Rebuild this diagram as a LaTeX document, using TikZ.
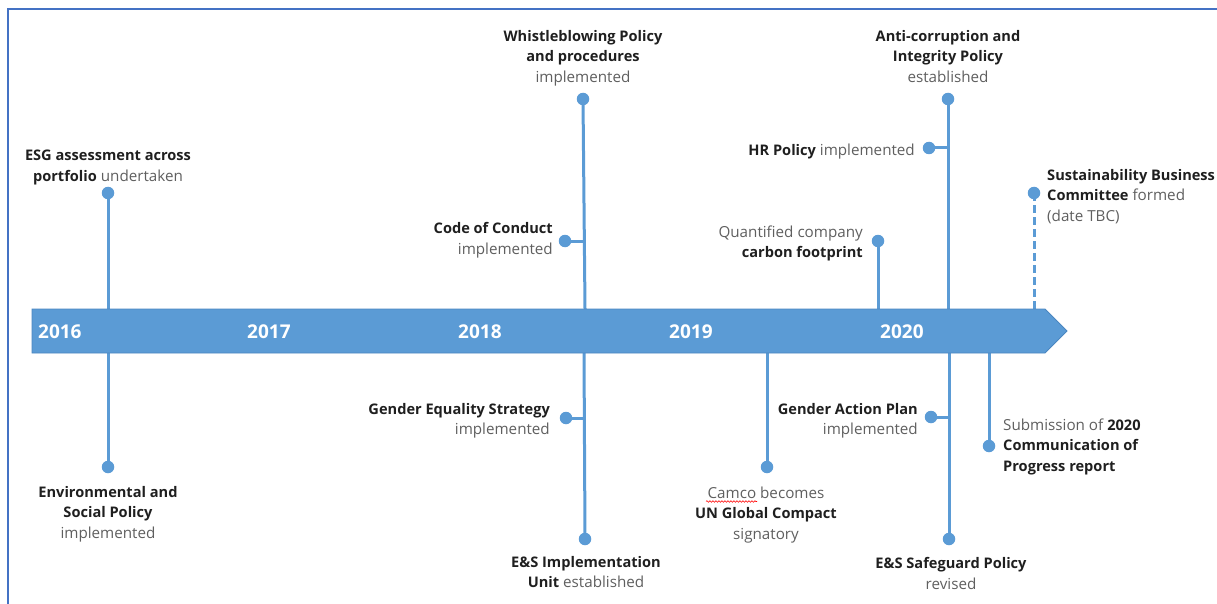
\documentclass[tikz,border=0pt]{standalone}
\usepackage{fontspec}
\setmainfont{Open Sans}
\usetikzlibrary{decorations.pathmorphing}
\definecolor{band}{HTML}{5B9BD5}
\definecolor{bandedge}{HTML}{4A86C0}
\definecolor{stemc}{HTML}{5B9BD5}
\definecolor{framec}{HTML}{4472C4}
\definecolor{txt}{HTML}{1F1F1F}
\definecolor{soft}{HTML}{5F5F5F}
\newcommand{\bt}[1]{{\fontsize{14.6}{20.5}\selectfont\bfseries\color{txt}#1}}
\tikzset{
  lbl/.style={font=\fontsize{15.2}{20.5}\selectfont, inner sep=0, text=soft},
  dotc/.style={circle, fill=stemc, minimum size=12.5, inner sep=0},
  stemline/.style={draw=stemc, line width=3},
  dashstem/.style={draw=stemc, line width=3, dash pattern=on 8 off 4},
  yearlbl/.style={font=\fontsize{19}{22}\selectfont\bfseries, text=white, anchor=base west, inner sep=0},
}
\begin{document}
\begin{tikzpicture}[x=1pt,y=-1pt]
\useasboundingbox (0,0) rectangle (1217,604);
% frame
\draw[framec, line width=1.5] (8,604) -- (8,9) -- (1217,9);

% band coordinates
\coordinate (esgB) at (108,309);
\coordinate (envB) at (108,353);
\coordinate (whB) at (585,309);
\coordinate (codeJ) at (584,241);
\coordinate (geqB) at (584,353);
\coordinate (geqJ) at (584.5,418);
\coordinate (carbB) at (878,309);
\coordinate (antiB) at (948,309);
\coordinate (hrJ) at (948,148);
\coordinate (sustB) at (1034,309);
\coordinate (camB) at (767,353);
\coordinate (safeB) at (949,353);
\coordinate (gapJ) at (949,417);
\coordinate (subB) at (989,353);

% dots
\node[dotc] (esgD) at (108,193) {};
\node[dotc] (envD) at (108,467) {};
\node[dotc] (whD) at (583,99) {};
\node[dotc] (codeD) at (565,241) {};
\node[dotc] (geqD) at (566,418) {};
\node[dotc] (esiD) at (585,539) {};
\node[dotc] (carbD) at (878,241) {};
\node[dotc] (antiD) at (948,99) {};
\node[dotc] (hrD) at (929,148) {};
\node[dotc] (sustD) at (1034,193) {};
\node[dotc] (camD) at (767,467) {};
\node[dotc] (gapD) at (931,417) {};
\node[dotc] (safeD) at (949,539) {};
\node[dotc] (subD) at (989,446) {};

% stems
\draw[stemline] (esgD.center) -- (esgB);
\draw[stemline] (envD.center) -- (envB);
\draw[stemline] (whD.center) -- (whB);
\draw[stemline] (codeD.center) -- (codeJ);
\draw[stemline] (esiD.center) -- (geqB);
\draw[stemline] (geqD.center) -- (geqJ);
\draw[stemline] (carbD.center) -- (carbB);
\draw[stemline] (antiD.center) -- (antiB);
\draw[stemline] (hrD.center) -- (hrJ);
\draw[dashstem] (sustD.center) -- (sustB);
\draw[stemline] (camD.center) -- (camB);
\draw[stemline] (safeD.center) -- (safeB);
\draw[stemline] (gapD.center) -- (gapJ);
\draw[stemline] (subD.center) -- (subB);

% band arrow
\draw[fill=band, draw=bandedge, line width=0.8] (32,309) -- (1045,309) -- (1067,331) -- (1045,353) -- (32,353) -- cycle;

% years
\node[yearlbl] (y16) at (38,338) {2016};
\node[yearlbl] (y17) at (247,338) {2017};
\node[yearlbl] (y18) at (458,338) {2018};
\node[yearlbl] (y19) at (669,338) {2019};
\node[yearlbl] (y20) at (880,338) {2020};

% labels
\node[lbl, anchor=north, align=center] (esgT) at (108,150.2) {\bt{ESG assessment across}\\\bt{portfolio} undertaken};
\node[lbl, anchor=north, align=center] (envT) at (108,486.2) {\bt{Environmental and}\\\bt{Social Policy}\\implemented};
\node[lbl, anchor=north, align=center] (whT) at (583,30.2) {\bt{Whistleblowing Policy}\\\bt{and procedures}\\implemented};
\node[lbl, anchor=north east, align=right] (codeT) at (553,222.2) {\bt{Code of Conduct}\\implemented};
\node[lbl, anchor=north east, align=right] (geqT) at (550,403.2) {\bt{Gender Equality Strategy}\\implemented};
\node[lbl, anchor=north, align=center] (esiT) at (586,556.2) {\bt{E\&S Implementation}\\\bt{Unit} established};
\node[lbl, anchor=north east, align=right] (carbT) at (863,225.2) {Quantified company\\\bt{carbon footprint}};
\node[lbl, anchor=north east, align=right] (hrT) at (915,144.2) {\bt{HR Policy} implemented};
\node[lbl, anchor=north, align=center] (antiT) at (948,30.2) {\bt{Anti-corruption and}\\\bt{Integrity Policy}\\established};
\node[lbl, anchor=north west, align=left] (sustT) at (1047,169.2) {\bt{Sustainability Business}\\\bt{Committee} formed\\(date TBC)};
\node[lbl, anchor=north, align=center] (camT) at (766,486.5) {Camco becomes\\\bt{UN Global Compact}\\signatory};
\node[lbl, anchor=north east, align=right] (gapT) at (918,403.2) {\bt{Gender Action Plan}\\implemented};
\node[lbl, anchor=north, align=center] (safeT) at (951,557.2) {\bt{E\&S Safeguard Policy}\\revised};
\node[lbl, anchor=north west, align=left] (subT) at (1003,418.5) {Submission of \bt{2020}\\\bt{Communication of}\\\bt{Progress report}};

% spell-check underline
\draw[red, line width=0.6, decorate, decoration={snake, amplitude=0.8, segment length=3}] (706,501.5) -- (757,501.5);
\end{tikzpicture}
\end{document}
